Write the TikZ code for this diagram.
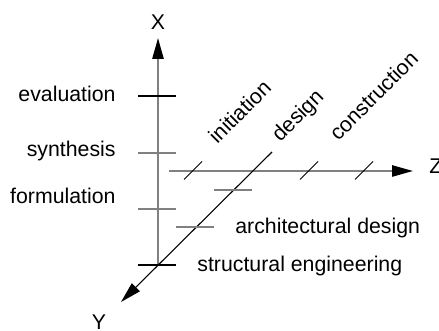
\documentclass[tikz,border=0pt]{standalone}
\usepackage{fontspec}
\setmainfont{Liberation Sans}
\usetikzlibrary{arrows.meta}
\definecolor{axgray}{HTML}{808080}
\begin{document}
\begin{tikzpicture}[x=0.5pt,y=-0.5pt,
  lbl/.style={inner sep=0pt,font=\fontsize{10.65}{12}\selectfont},
  grayaxis/.style={draw=axgray,line width=1pt,-{Triangle[length=10.5pt,width=5.6pt,color=black]}},
  blackaxis/.style={draw=black,line width=0.55pt,-{Triangle[length=10.5pt,width=5.6pt,color=black]}},
  tickblack/.style={draw=black,line width=0.55pt},
  tickgray/.style={draw=axgray,line width=1pt},
  slash/.style={draw=black,line width=0.5pt}]
\useasboundingbox (0,0) rectangle (439,331);
% axes end points
\coordinate (xo) at (158,265);
\coordinate (xe) at (158,38);
\coordinate (zo) at (169,171);
\coordinate (ze) at (413,171);
\coordinate (yo) at (272,152);
\coordinate (ye) at (121,302);
\draw[grayaxis] (xo) -- (xe);
\draw[grayaxis] (zo) -- (ze);
\draw[blackaxis] (yo) -- (ye);
% X ticks
\coordinate (ev1) at (138,96);  \coordinate (ev2) at (176,96);
\coordinate (sy1) at (138,153); \coordinate (sy2) at (176,153);
\coordinate (fo1) at (138,209); \coordinate (fo2) at (176,209);
\coordinate (bt1) at (138,265); \coordinate (bt2) at (176,265);
\draw[tickblack] (ev1) -- (ev2);
\draw[tickgray] (sy1) -- (sy2);
\draw[tickgray] (fo1) -- (fo2);
\draw[tickblack] (bt1) -- (bt2);
% Y ticks
\coordinate (ya1) at (176,227); \coordinate (ya2) at (214,227);
\coordinate (yb1) at (214,190); \coordinate (yb2) at (252,190);
\draw[tickgray] (ya1) -- (ya2);
\draw[tickgray] (yb1) -- (yb2);
% Z slashes
\coordinate (za1) at (184,179.5); \coordinate (za2) at (202,161.5);
\coordinate (zb1) at (300,179.5); \coordinate (zb2) at (318,161.5);
\coordinate (zc1) at (355,179.5); \coordinate (zc2) at (373,161.5);
\draw[slash] (za1) -- (za2);
\draw[slash] (zb1) -- (zb2);
\draw[slash] (zc1) -- (zc2);
% labels
\node[lbl] (X) at (158,22.5) {X};
\node[lbl] (Y) at (99,322) {Y};
\node[lbl,anchor=west] (Z) at (429,166) {Z};
\node[lbl,anchor=base east] (eval) at (116,102) {evaluation};
\node[lbl,anchor=base east] (synth) at (116,157) {synthesis};
\node[lbl,anchor=base east] (form) at (116,204) {formulation};
\node[lbl,anchor=base west] (arch) at (235,234) {architectural design};
\node[lbl,anchor=base west] (struct) at (197,271.5) {structural engineering};
\node[lbl,anchor=base west,rotate=45] (init) at (217,145) {initiation};
\node[lbl,anchor=base west,rotate=45] (des) at (280,143) {design};
\node[lbl,anchor=base west,rotate=45] (constr) at (338,142) {construction};
\end{tikzpicture}
\end{document}
